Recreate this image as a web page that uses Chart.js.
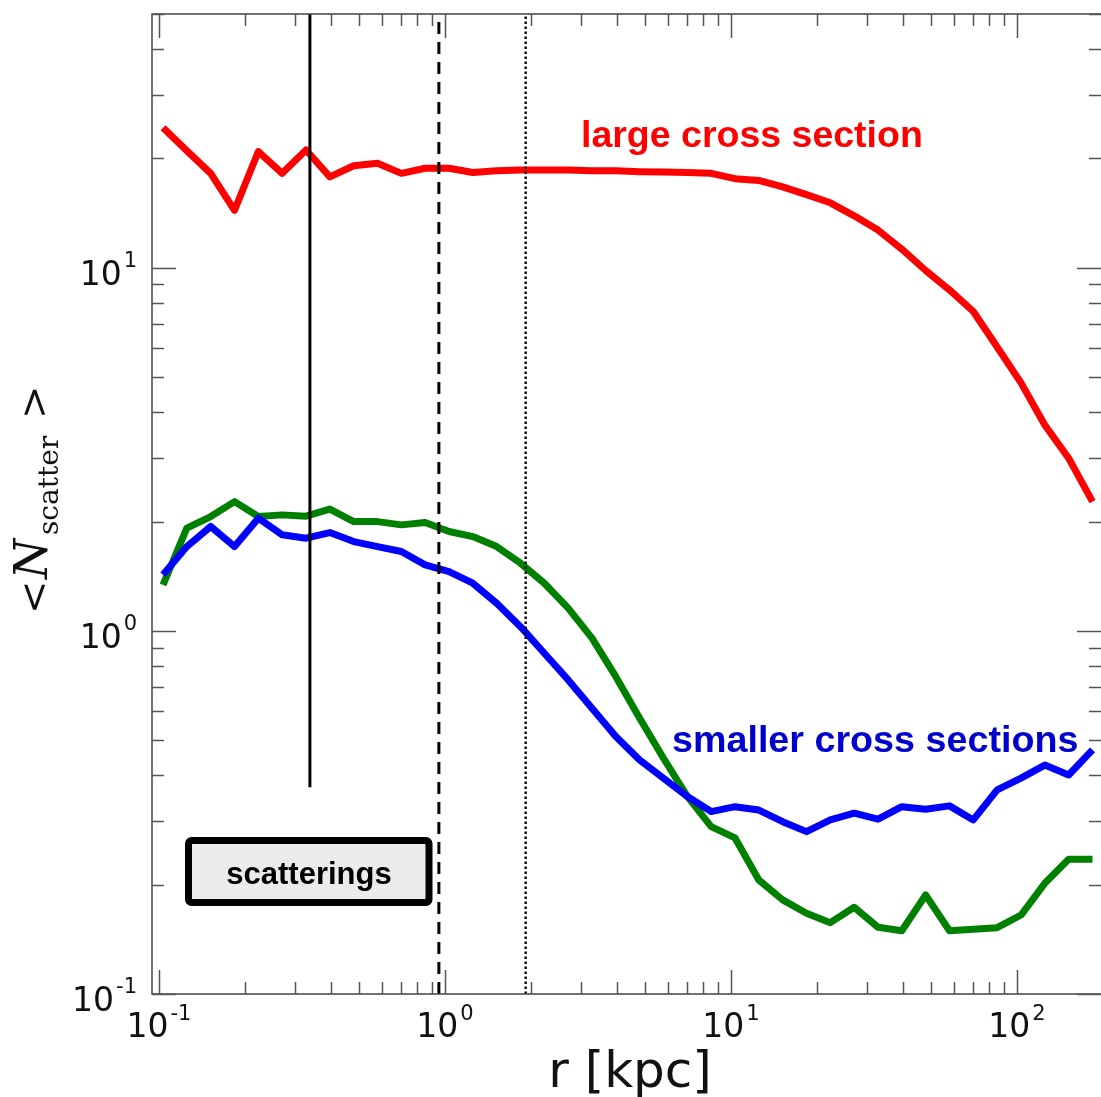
<!DOCTYPE html>
<html>
<head>
<meta charset="utf-8">
<script src="https://cdn.jsdelivr.net/npm/chart.js@4.4.1/dist/chart.umd.min.js"></script>
<style>
  html, body { margin: 0; padding: 0; background: #fff; }
</style>
</head>
<body>
<canvas id="scatterChart" width="1101" height="1097"></canvas>
<script>
// radial bins, kpc
const radii = [0.1033, 0.1251, 0.1516, 0.1837, 0.2225, 0.2696, 0.3266, 0.3957, 0.4794, 0.5808,
  0.7036, 0.8524, 1.033, 1.251, 1.516, 1.837, 2.225, 2.696, 3.266, 3.957,
  4.794, 5.808, 7.036, 8.524, 10.33, 12.51, 15.16, 18.37, 22.25, 26.96,
  32.66, 39.57, 47.94, 58.08, 70.36, 85.24, 103.3, 125.1, 151.6, 183.7];

// <N_scatter> per bin
const largeCross = [24.3, 21.0, 18.2, 14.4, 20.9, 18.2, 21.1, 17.8, 19.1, 19.4,
  18.2, 18.8, 18.8, 18.3, 18.5, 18.6, 18.6, 18.6, 18.5, 18.5,
  18.4, 18.35, 18.3, 18.2, 17.6, 17.4, 16.7, 15.9, 15.1, 13.9,
  12.7, 11.25, 9.83, 8.69, 7.58, 6.05, 4.82, 3.69, 2.99, 2.27];
const smallerGreen = [1.339, 1.918, 2.065, 2.27, 2.065, 2.087, 2.07, 2.165, 2.0, 2.0,
  1.959, 1.988, 1.878, 1.819, 1.707, 1.536, 1.353, 1.155, 0.955, 0.748,
  0.575, 0.446, 0.35, 0.289, 0.269, 0.206, 0.1816, 0.1668, 0.1572, 0.1733,
  0.1527, 0.1494, 0.1874, 0.1494, 0.1507, 0.1523, 0.165, 0.2018, 0.235, 0.235];
const smallerBlue = [1.427, 1.707, 1.939, 1.707, 2.044, 1.839, 1.8, 1.866, 1.762, 1.707,
  1.654, 1.52, 1.457, 1.353, 1.192, 1.027, 0.868, 0.733, 0.612, 0.512,
  0.441, 0.393, 0.35, 0.318, 0.328, 0.321, 0.2983, 0.28, 0.3016, 0.3147,
  0.303, 0.328, 0.3227, 0.3297, 0.3016, 0.365, 0.393, 0.427, 0.401, 0.47];

// vertical reference lines: radius, bottom of line
const markerRadii = [0.337, 0.952, 1.915];
const markerBottoms = [0.371, 0.1, 0.1];

// axis ranges and tick decades
const xRange = [0.09452, 196.7];
const yRange = [0.1, 50];
const xTickExps = [-1, 0, 1, 2];
const yTickExps = [-1, 0, 1];

function toPoints(xs, ys) {
  return xs.map((x, i) => ({ x: x, y: ys[i] }));
}

function vline(i) {
  return [{ x: markerRadii[i], y: markerBottoms[i] }, { x: markerRadii[i], y: yRange[1] }];
}

// "10" with a superscript exponent
function drawPow(ctx, exp, left, baseY, supY) {
  ctx.font = '33px "DejaVu Sans"';
  const wb = ctx.measureText('10').width;
  ctx.fillText('10', left, baseY);
  ctx.font = '21px "DejaVu Sans"';
  ctx.fillText(String(exp), left + wb + 2, supY);
}
function powWidth(ctx, exp) {
  ctx.font = '33px "DejaVu Sans"';
  const wb = ctx.measureText('10').width;
  ctx.font = '21px "DejaVu Sans"';
  return wb + 2 + ctx.measureText(String(exp)).width;
}

const frameAndTicks = {
  id: 'frameAndTicks',
  afterDraw(chart) {
    const { ctx, chartArea: a, scales } = chart;
    const x = scales.x, y = scales.y;
    ctx.save();

    // spines (right one sits just past the canvas edge)
    ctx.strokeStyle = '#444';
    ctx.lineWidth = 1.5;
    ctx.beginPath();
    ctx.moveTo(a.right + 2, a.top);
    ctx.lineTo(a.left, a.top);
    ctx.lineTo(a.left, a.bottom);
    ctx.lineTo(a.right + 2, a.bottom);
    ctx.stroke();

    // ticks, inward on all four sides
    ctx.strokeStyle = '#555';
    ctx.beginPath();
    xTickExps.forEach(d => {
      for (let m = 1; m <= 9; m++) {
        const v = m * Math.pow(10, d);
        if (v < xRange[0] || v > xRange[1]) continue;
        const px = Math.round(x.getPixelForValue(v)) + 0.5;
        const len = m === 1 ? 24 : 12;
        ctx.moveTo(px, a.bottom); ctx.lineTo(px, a.bottom - len);
        ctx.moveTo(px, a.top); ctx.lineTo(px, a.top + len);
      }
    });
    yTickExps.forEach(d => {
      for (let m = 1; m <= 9; m++) {
        const v = m * Math.pow(10, d);
        if (v < yRange[0] || v > yRange[1]) continue;
        const py = Math.round(y.getPixelForValue(v)) + 0.5;
        const len = m === 1 ? 24 : 12;
        ctx.moveTo(a.left, py); ctx.lineTo(a.left + len, py);
        ctx.moveTo(a.right, py); ctx.lineTo(a.right - len, py);
      }
    });
    ctx.stroke();

    // tick labels
    ctx.fillStyle = '#111';
    ctx.textAlign = 'left';
    ctx.textBaseline = 'alphabetic';
    xTickExps.forEach(d => {
      const px = x.getPixelForValue(Math.pow(10, d));
      const w = powWidth(ctx, d);
      drawPow(ctx, d, px - w / 2, a.bottom + 43, a.bottom + 26);
    });
    yTickExps.forEach(d => {
      const py = y.getPixelForValue(Math.pow(10, d));
      const w = powWidth(ctx, d);
      drawPow(ctx, d, 137 - w, py + 17, py - 1);
    });

    // x axis title
    ctx.font = '50px "DejaVu Sans"';
    ctx.textAlign = 'center';
    ctx.fillText('r [kpc]', 630, 1087);

    // y axis title, reads bottom to top
    ctx.translate(47, 612);
    ctx.rotate(-Math.PI / 2);
    ctx.textAlign = 'left';
    ctx.font = '40px "DejaVu Serif"';
    ctx.fillText('<', -2, 0);
    ctx.font = 'italic 46px "DejaVu Serif"';
    ctx.fillText('N', 33, 0);
    ctx.font = '28px "DejaVu Serif"';
    ctx.fillText('scatter', 77, 11);
    ctx.font = '40px "DejaVu Serif"';
    ctx.fillText('>', 193, 0);
    ctx.restore();

    // annotations
    ctx.save();
    ctx.textAlign = 'left';
    ctx.font = 'bold 37.5px "Liberation Sans"';
    ctx.fillStyle = '#ff0000';
    ctx.fillText('large cross section', 581, 147);
    ctx.fillStyle = '#0000cc';
    ctx.font = 'bold 37.7px "Liberation Sans"';
    ctx.fillText('smaller cross sections', 672, 752);

    // boxed label
    ctx.beginPath();
    ctx.roundRect(188.5, 840.5, 240.5, 62, 3);
    ctx.fillStyle = '#ebebeb';
    ctx.fill();
    ctx.lineWidth = 7;
    ctx.strokeStyle = '#000';
    ctx.stroke();
    ctx.fillStyle = '#000';
    ctx.textAlign = 'center';
    ctx.font = 'bold 31px "Liberation Sans"';
    ctx.fillText('scatterings', 309, 884);
    ctx.restore();
  }
};

const ctx = document.getElementById('scatterChart').getContext('2d');
new Chart(ctx, {
  type: 'line',
  data: {
    datasets: [
      { data: vline(0), borderColor: '#000', borderWidth: 3 },
      { data: vline(1), borderColor: '#000', borderWidth: 3, borderDash: [12, 8] },
      { data: vline(2), borderColor: '#111', borderWidth: 2.5, borderDash: [2.5, 2.5] },
      { data: toPoints(radii, smallerBlue), borderColor: '#0000ff', borderWidth: 7 },
      { data: toPoints(radii, smallerGreen), borderColor: '#008000', borderWidth: 7 },
      { data: toPoints(radii, largeCross), borderColor: '#ff0000', borderWidth: 7 }
    ]
  },
  options: {
    responsive: false,
    animation: false,
    devicePixelRatio: 1,
    layout: { padding: { left: 152, top: 14, right: 0, bottom: 103 } },
    elements: {
      point: { radius: 0 },
      line: { tension: 0, fill: false, borderJoinStyle: 'round' }
    },
    plugins: { legend: { display: false }, tooltip: { enabled: false } },
    scales: {
      x: { type: 'logarithmic', min: xRange[0], max: xRange[1], display: false },
      y: { type: 'logarithmic', min: yRange[0], max: yRange[1], display: false }
    }
  },
  plugins: [frameAndTicks]
});
</script>
</body>
</html>
